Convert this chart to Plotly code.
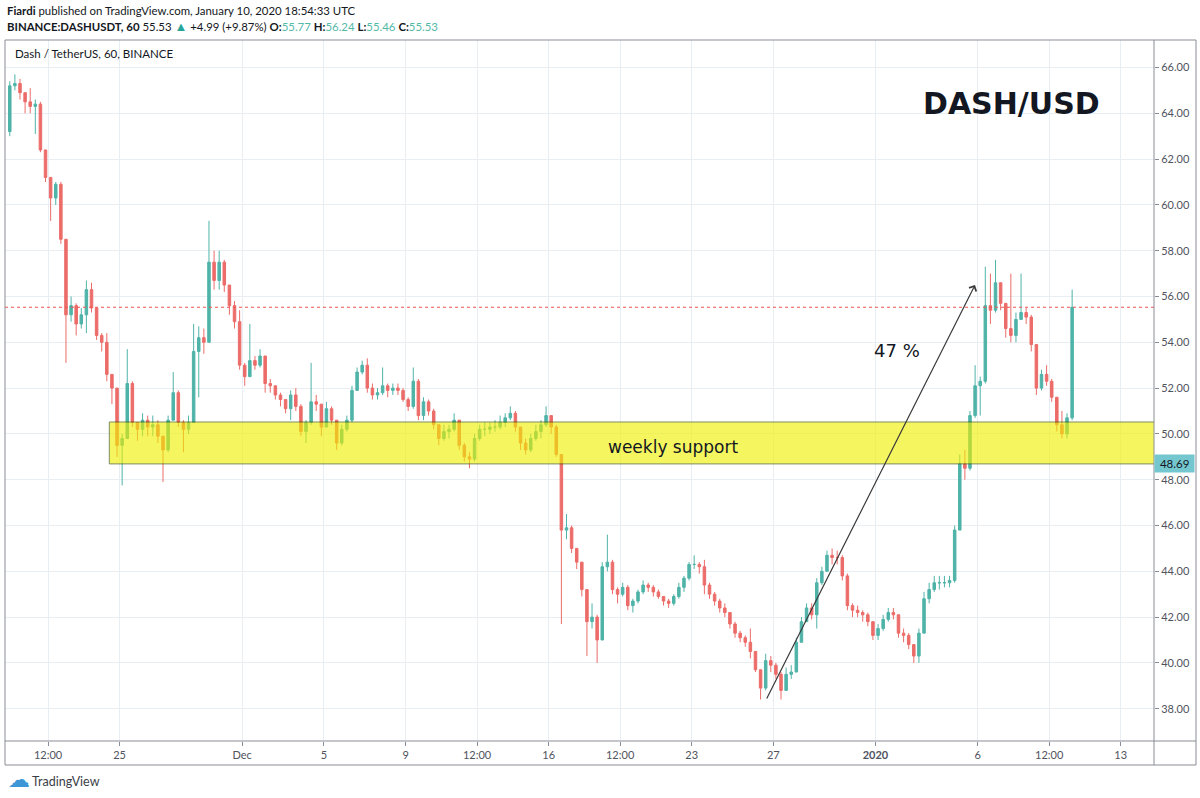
import pandas as pd
import plotly.graph_objects as go

# 6-hour candles (Nov 19 2019 - Jan 10 2020)
first_open = 63.2

close = [
    65.2, 65.3, 64.9, 64.5, 64.3, 64.4, 62.4, 61.2, 60.3, 60.9,
    58.5, 55.2, 55.6, 54.8, 55.2, 56.3, 55.5, 54.3, 54.0, 52.6,
    52.0, 49.5, 49.8, 52.2, 50.5, 50.2, 50.6, 50.3, 50.4, 49.9,
    49.3, 50.6, 51.8, 50.5, 50.2, 50.5, 53.6, 54.2, 54.0, 57.5,
    56.7, 57.5, 56.5, 55.6, 54.9, 53.0, 52.5, 53.2, 53.0, 53.4,
    52.2, 52.1, 51.7, 51.5, 51.1, 51.7, 51.2, 50.1, 50.5, 51.4,
    51.3, 50.3, 51.1, 50.6, 49.6, 50.2, 50.6, 51.9, 52.7, 53.0,
    52.0, 51.7, 51.8, 52.1, 51.9, 52.0, 51.9, 51.5, 51.2, 52.3,
    50.8, 51.4, 51.0, 50.4, 49.8, 50.1, 50.2, 50.6, 49.5, 49.0,
    48.9, 49.8, 50.2, 50.2, 50.3, 50.3, 50.5, 50.7, 50.9, 50.3,
    49.6, 49.3, 49.8, 50.1, 50.4, 50.8, 50.3, 49.1, 45.8, 45.9,
    45.0, 44.4, 43.2, 41.8, 42.0, 41.0, 44.2, 44.4, 43.2, 43.0,
    43.3, 42.5, 42.7, 43.1, 43.4, 43.3, 43.1, 42.9, 42.7, 42.6,
    42.9, 43.3, 43.7, 44.3, 44.3, 44.2, 43.4, 43.0, 42.7, 42.4,
    42.2, 41.7, 41.3, 41.1, 40.9, 40.5, 39.7, 38.9, 40.1, 39.9,
    39.5, 38.8, 39.5, 39.6, 40.9, 41.8, 42.4, 42.1, 43.5, 44.0,
    44.7, 44.6, 44.6, 43.8, 42.5, 42.3, 42.2, 42.1, 41.8, 41.2,
    41.5, 41.9, 42.2, 42.1, 41.3, 41.2, 40.8, 40.3, 41.3, 42.8,
    43.2, 43.5, 43.5, 43.5, 43.6, 45.8, 48.7, 48.5, 50.8, 52.1,
    52.3, 55.6, 55.4, 56.6, 55.7, 54.6, 54.3, 55.0, 55.3, 55.1,
    53.9, 52.0, 52.6, 52.3, 51.6, 50.4, 50.0, 50.7, 55.53,
]

high = [
    65.4, 65.7, 65.5, 64.9, 65.1, 64.6, 64.5, 62.2, 61.1, 61.0,
    61.0, 58.3, 56.0, 55.7, 55.5, 56.7, 56.6, 55.5, 54.4, 54.4,
    52.4, 52.0, 50.0, 53.7, 52.3, 50.5, 50.9, 50.8, 50.8, 50.6,
    49.9, 50.8, 52.7, 51.9, 50.6, 50.8, 54.8, 54.7, 54.6, 59.3,
    58.0, 58.0, 57.6, 56.5, 55.8, 55.4, 53.1, 54.8, 53.4, 53.7,
    53.4, 52.4, 52.1, 51.8, 51.5, 51.9, 52.0, 51.3, 50.6, 53.1,
    51.7, 51.3, 51.4, 51.2, 50.6, 50.4, 50.8, 52.1, 52.9, 53.2,
    53.3, 52.2, 52.0, 52.9, 52.2, 52.2, 52.2, 52.0, 51.6, 52.9,
    52.4, 51.6, 51.5, 51.1, 50.4, 50.4, 50.4, 50.9, 50.6, 49.6,
    49.2, 50.0, 50.4, 50.5, 50.5, 50.6, 50.8, 50.9, 51.2, 51.0,
    50.3, 49.8, 50.0, 50.4, 50.6, 51.2, 50.8, 50.4, 49.1, 46.5,
    46.0, 45.0, 44.4, 43.2, 42.6, 42.1, 44.4, 45.6, 44.5, 43.3,
    43.5, 43.4, 42.8, 43.2, 43.6, 43.5, 43.4, 43.2, 42.9, 42.8,
    43.0, 43.5, 43.8, 44.4, 44.7, 44.4, 44.5, 43.5, 43.1, 42.8,
    42.6, 42.2, 41.8, 41.4, 41.2, 41.5, 40.5, 39.7, 40.4, 40.3,
    40.0, 39.6, 39.8, 39.9, 41.1, 42.0, 42.6, 42.6, 43.7, 44.2,
    44.9, 45.0, 44.9, 44.7, 43.9, 42.6, 42.5, 42.3, 42.2, 41.8,
    41.7, 42.1, 42.4, 42.4, 42.1, 41.5, 41.3, 40.8, 41.5, 43.1,
    43.5, 43.8, 43.8, 43.8, 43.8, 46.0, 49.1, 49.3, 51.0, 53.0,
    52.5, 57.3, 57.0, 57.6, 56.6, 55.7, 57.0, 55.3, 57.0, 55.5,
    55.2, 53.9, 52.8, 53.0, 52.4, 51.6, 51.0, 50.9, 56.3,
]

low = [
    63.0, 65.0, 64.6, 64.0, 64.0, 63.1, 62.3, 61.0, 59.3, 60.0,
    58.3, 53.1, 54.9, 54.3, 54.6, 54.4, 55.3, 54.1, 53.6, 52.3,
    51.3, 49.0, 47.75, 49.8, 50.3, 49.7, 49.9, 49.9, 49.9, 49.6,
    47.9, 49.2, 50.6, 50.3, 49.2, 50.0, 50.5, 51.6, 53.5, 54.2,
    56.3, 56.3, 56.2, 55.2, 54.6, 52.8, 52.1, 52.5, 52.8, 52.9,
    51.8, 51.8, 51.5, 51.2, 50.9, 50.6, 51.0, 49.9, 49.6, 50.4,
    51.0, 49.9, 50.3, 50.4, 49.3, 49.5, 50.1, 50.5, 52.0, 52.6,
    51.8, 51.5, 51.5, 51.7, 51.6, 51.7, 51.7, 51.4, 51.0, 51.1,
    50.6, 50.6, 50.8, 50.2, 49.5, 49.7, 49.8, 50.1, 49.3, 48.8,
    48.5, 48.8, 49.7, 49.9, 50.0, 50.1, 50.2, 50.3, 50.6, 50.1,
    49.3, 49.1, 49.2, 49.7, 49.8, 50.3, 50.0, 49.0, 41.7, 45.4,
    44.8, 44.1, 42.9, 40.3, 41.5, 40.0, 41.0, 44.0, 43.0, 42.6,
    42.9, 42.3, 42.2, 42.6, 43.0, 43.1, 42.9, 42.8, 42.5, 42.4,
    42.5, 42.8, 43.1, 43.6, 44.1, 43.9, 43.0, 42.8, 42.5, 42.2,
    42.0, 41.5, 41.1, 40.9, 40.7, 40.2, 39.6, 38.4, 38.8, 39.6,
    39.3, 38.4, 38.8, 39.3, 39.6, 40.9, 41.8, 41.9, 41.5, 43.4,
    44.0, 44.3, 44.3, 43.6, 42.3, 42.0, 42.0, 41.8, 41.6, 41.0,
    41.0, 41.4, 41.8, 41.9, 41.1, 40.9, 40.6, 40.0, 40.0, 41.3,
    42.6, 43.1, 43.2, 43.3, 43.3, 43.5, 45.8, 48.0, 48.4, 50.7,
    50.8, 52.2, 54.8, 55.3, 55.4, 54.2, 54.0, 54.0, 55.0, 54.8,
    53.6, 51.7, 51.9, 52.1, 51.4, 50.1, 49.8, 49.8, 50.6,
]

tick_dates = ["2019-11-21 12:00", "2019-11-25 00:00", "2019-12-01 00:00", "2019-12-05 00:00",
              "2019-12-09 00:00", "2019-12-12 12:00", "2019-12-16 00:00", "2019-12-19 12:00",
              "2019-12-23 00:00", "2019-12-27 00:00", "2020-01-01 00:00", "2020-01-06 00:00",
              "2020-01-09 12:00", "2020-01-13 00:00"]
tick_text = ["12:00", "25", "Dec", "5", "9", "12:00", "16", "12:00",
             "23", "27", "<b>2020</b>", "6", "12:00", "13"]

support_low = 48.69
support_high = 50.52
last_price = 55.53

# candle table: each open is the previous close
times = pd.date_range("2019-11-19 15:00", periods=len(close), freq="6h")
opens = [first_open] + close[:-1]
highs = [max(h, o, c) for h, o, c in zip(high, opens, close)]
lows = [min(l, o, c) for l, o, c in zip(low, opens, close)]

# pixel helpers (plot area 5..1154 x 40..741)
L, R, T, B = 5, 1154, 40, 741
def px_x(X):
    return (X - L) / (R - L)
def px_y(Y):
    return (B - Y) / (B - T)
def t_at(X):
    return pd.Timestamp("2020-01-01") + pd.Timedelta(days=(X - 875.5) / 20.43)
def p_at(Y):
    return 66 - (Y - 67.5) / 22.9

TXT = "#131722"
AX = "#50535e"
FRAME = "#8a8d96"
GRID = "#e9eef2"
UI_FONT = "Lato"

fig = go.Figure()
fig.add_trace(go.Candlestick(
    x=times, open=opens, high=highs, low=lows, close=close,
    increasing=dict(line=dict(color="#4fb3a8", width=1), fillcolor="#4fb3a8"),
    decreasing=dict(line=dict(color="#ec6c69", width=1), fillcolor="#ec6c69"),
    whiskerwidth=0, hoverinfo="skip",
))

fig.update_xaxes(
    type="date", range=[t_at(L), t_at(R)], rangeslider_visible=False,
    tickvals=pd.to_datetime(tick_dates), ticktext=tick_text,
    ticks="outside", ticklen=4, tickcolor=FRAME,
    tickfont=dict(family=UI_FONT, size=11, color=AX),
    showgrid=True, gridcolor=GRID, gridwidth=1,
    showline=False, zeroline=False, automargin=False, fixedrange=True,
)
fig.update_yaxes(
    side="right", range=[p_at(B), p_at(T)], dtick=2, tick0=0, tickformat=".2f",
    ticks="outside", ticklen=4, tickcolor=FRAME,
    tickfont=dict(family=UI_FONT, size=11, color=AX),
    showgrid=True, gridcolor=GRID, gridwidth=1,
    showline=False, zeroline=False, automargin=False, fixedrange=True,
)

shapes = [
    # weekly support zone
    dict(type="rect", xref="x", yref="y", x0=t_at(109.3), x1=t_at(R + 40),
         y0=support_low, y1=support_high, fillcolor="#f0f000", opacity=0.62,
         line=dict(color="#2f4a00", width=1), layer="above"),
    # last price line
    dict(type="line", xref="paper", yref="y", x0=0, x1=1, y0=last_price, y1=last_price,
         line=dict(color="#ef5350", width=1, dash="dot"), layer="above"),
    # frame
    dict(type="rect", xref="paper", yref="paper", x0=0, x1=px_x(1196),
         y0=px_y(765), y1=1, line=dict(color=FRAME, width=1), layer="above"),
    dict(type="line", xref="paper", yref="paper", x0=1, x1=1, y0=px_y(765), y1=1,
         line=dict(color=FRAME, width=1), layer="above"),
    dict(type="line", xref="paper", yref="paper", x0=0, x1=px_x(1196), y0=0, y1=0,
         line=dict(color=FRAME, width=1), layer="above"),
]

annotations = [
    dict(xref="paper", yref="paper", x=px_x(5), y=px_y(10), xanchor="left", yanchor="middle",
         text="<b>Fiardi</b> published on TradingView.com, January 10, 2020 18:54:33 UTC",
         showarrow=False, font=dict(family=UI_FONT, size=11.4, color=TXT)),
    dict(xref="paper", yref="paper", x=px_x(5), y=px_y(26), xanchor="left", yanchor="middle",
         text=("<b>BINANCE:DASHUSDT, 60</b> 55.53 <span style='color:#26a69a;font-size:13px'>▲</span> "
               "+4.99 (+9.87%) <b>O:</b><span style='color:#53b9a9'>55.77</span> "
               "<b>H:</b><span style='color:#53b9a9'>56.24</span> "
               "<b>L:</b><span style='color:#53b9a9'>55.46</span> "
               "<b>C:</b><span style='color:#53b9a9'>55.53</span>"),
         showarrow=False, font=dict(family=UI_FONT, size=11.4, color=TXT)),
    dict(xref="paper", yref="paper", x=px_x(13), y=px_y(53), xanchor="left", yanchor="middle",
         text="Dash / TetherUS, 60, BINANCE", showarrow=False,
         font=dict(family=UI_FONT, size=11.5, color=TXT)),
    dict(xref="paper", yref="paper", x=px_x(1011), y=px_y(103), xanchor="center", yanchor="middle",
         text="<b>DASH/USD</b>", showarrow=False,
         font=dict(family="DejaVu Sans", size=30, color=TXT)),
    dict(xref="paper", yref="paper", x=px_x(897), y=px_y(350), xanchor="center", yanchor="middle",
         text="47 %", showarrow=False, font=dict(family="DejaVu Sans", size=18, color=TXT)),
    dict(xref="paper", yref="paper", x=px_x(673), y=px_y(447), xanchor="center", yanchor="middle",
         text="weekly support", showarrow=False,
         font=dict(family="DejaVu Sans", size=17, color=TXT)),
    # 47 % move arrow
    dict(xref="x", yref="y", axref="x", ayref="y",
         x=t_at(975), y=p_at(285), ax=t_at(766), ay=p_at(700),
         text="", showarrow=True, arrowhead=4, arrowsize=1.3, arrowwidth=1.2,
         arrowcolor="#3a3a3a"),
    # support level label on the price scale
    dict(xref="paper", yref="y", x=px_x(1174.5), y=support_low, xanchor="center", yanchor="middle",
         text="&nbsp;48.69&nbsp;", showarrow=False, bgcolor="#74c7cf", borderpad=2,
         font=dict(family=UI_FONT, size=11.5, color=TXT)),
    # TradingView footer
    dict(xref="paper", yref="paper", x=px_x(6), y=px_y(780), xanchor="left", yanchor="middle",
         text="☁", showarrow=False, font=dict(family="DejaVu Sans", size=22, color="#3d97d6")),
    dict(xref="paper", yref="paper", x=px_x(30), y=px_y(781), xanchor="left", yanchor="middle",
         text="TradingView", showarrow=False, font=dict(family=UI_FONT, size=12.5, color="#3a3e47")),
]

fig.update_layout(
    width=1200, height=798,
    margin=dict(l=L, r=1200 - R, t=T, b=798 - B),
    paper_bgcolor="white", plot_bgcolor="white",
    showlegend=False, shapes=shapes, annotations=annotations,
    dragmode=False, hovermode=False,
)

# drop the default page margin so the figure sits at the window corner
fig.write_html("out.html", config={"displayModeBar": False},
               post_script="document.body.style.margin='0';")
